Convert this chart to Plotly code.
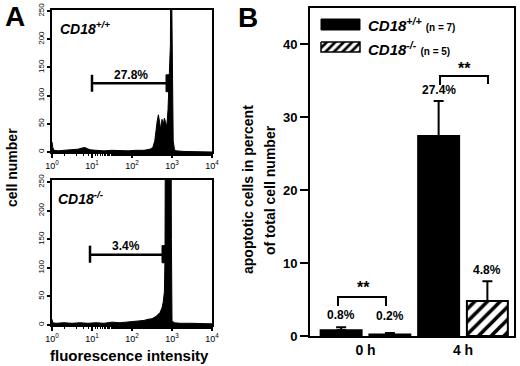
import plotly.graph_objects as go

W, H = 520, 366
FONT = "Liberation Sans, Arial, sans-serif"

# ---------------- Panel A data (log10 fluorescence channel, cell count) ----------------
wt_log = [0.00, 0.02, 0.05, 0.15, 0.30, 0.50, 0.65, 0.75, 0.82, 0.88, 0.95, 1.10, 1.30,
          1.50, 1.70, 1.90, 2.10, 2.30, 2.45, 2.52, 2.57, 2.60, 2.63, 2.66, 2.69, 2.72,
          2.75, 2.78, 2.81, 2.84, 2.87, 2.90, 2.92, 2.94, 2.96, 2.975, 2.99, 3.01, 3.03,
          3.06, 3.10, 3.30, 3.60, 4.00]
wt_count = [18, 8, 3, 2, 3, 4, 5, 7, 8, 6, 4, 3, 2,
            3, 2, 2, 3, 3, 5, 8, 20, 45, 55, 66, 50, 40,
            58, 48, 60, 52, 45, 75, 110, 150, 190, 400, 250, 90, 20,
            5, 2, 1, 0, 0]

ko_log = [0.00, 0.02, 0.10, 0.30, 0.50, 0.70, 0.90, 1.10, 1.30, 1.50, 1.70, 1.90, 2.10,
          2.20, 2.30, 2.40, 2.50, 2.60, 2.70, 2.75, 2.78, 2.81, 2.825, 2.835, 2.975, 2.985,
          3.00, 3.05, 3.20, 3.50, 3.80, 4.00]
ko_count = [10, 4, 3, 4, 3, 4, 3, 4, 3, 5, 4, 5, 6,
            7, 8, 10, 11, 15, 22, 30, 40, 58, 120, 400, 400, 150,
            8, 4, 3, 3, 2, 2]

# gates: [left cap, right block start, right block end] in log10 units, gate level & cap range in counts
gate_text = ["27.8%", "3.4%"]
gate_left = [1.00, 0.95]
gate_block = [(2.85, 2.975), (2.75, 2.875)]
gate_level = [122, 123]
gate_cap = [(107, 137), (109, 139)]
hist_names = ["CD18<sup>+/+</sup>", "CD18<sup>-/-</sup>"]

x_tick_exp = [0, 1, 2, 3, 4]
y_ticks_A = [0, 50, 100, 150, 200, 250]

# ---------------- Panel B data ----------------
times = ["0 h", "4 h"]
wt_vals = [0.8, 27.4]
wt_err = [0.4, 4.8]
ko_vals = [0.2, 4.8]
ko_err = [0.2, 2.7]
wt_lbl = ["0.8%", "27.4%"]
ko_lbl = ["0.2%", "4.8%"]
y_ticks_B = [0, 10, 20, 30, 40]

fig = go.Figure()

def px_x(p):
    return p / W

def px_y(p):
    return 1 - p / H

# ---------- Panel A histograms ----------
axesA = [("x", "y"), ("x2", "y2")]
hists = [(wt_log, wt_count), (ko_log, ko_count)]
for i, ((xa, ya), (lg, ct)) in enumerate(zip(axesA, hists)):
    fig.add_trace(go.Scatter(
        x=[10 ** e for e in lg], y=ct, mode="lines",
        line=dict(color="black", width=1), fill="tozeroy", fillcolor="black",
        xaxis=xa, yaxis=ya, showlegend=False, hoverinfo="skip"))
    lo = 10 ** gate_left[i]
    b0, b1 = (10 ** gate_block[i][0], 10 ** gate_block[i][1])
    c0, c1 = gate_cap[i]
    fig.add_trace(go.Scatter(
        x=[lo, lo, None, lo, b0], y=[c0, c1, None, gate_level[i], gate_level[i]],
        mode="lines", line=dict(color="black", width=2.5),
        xaxis=xa, yaxis=ya, showlegend=False, hoverinfo="skip"))
    fig.add_trace(go.Scatter(
        x=[b0, b1, b1, b0, b0], y=[c0, c0, c1, c1, c0], mode="lines",
        fill="toself", fillcolor="black", line=dict(color="black", width=1),
        xaxis=xa, yaxis=ya, showlegend=False, hoverinfo="skip"))

# ---------- Panel B bars ----------
xpos = list(range(len(times)))
fig.add_trace(go.Bar(
    x=xpos, y=wt_vals, name="CD18+/+", xaxis="x3", yaxis="y3",
    marker=dict(color="black", line=dict(color="black", width=2)),
    error_y=dict(type="data", symmetric=False, array=wt_err, arrayminus=[0] * len(wt_err),
                 color="black", thickness=2, width=5),
    showlegend=False))
fig.add_trace(go.Bar(
    x=xpos, y=ko_vals, name="CD18-/-", xaxis="x3", yaxis="y3",
    marker=dict(color="white", line=dict(color="black", width=2),
                pattern=dict(shape="/", fgcolor="black", bgcolor="white", size=9, solidity=0.4)),
    error_y=dict(type="data", symmetric=False, array=ko_err, arrayminus=[0] * len(ko_err),
                 color="black", thickness=2, width=5),
    showlegend=False))

# B pixel -> data helpers (for decorative elements)
B_X0, B_UNIT = 365.5, 97.5
B_Y0, B_YU = 336, 7.3

def bx(p):
    return (p - B_X0) / B_UNIT

def by(p):
    return (B_Y0 - p) / B_YU

# legend swatches
sw = [(321, 360, 19, 30), (321, 360, 42, 52)]
fig.add_trace(go.Scatter(
    x=[bx(sw[0][0]), bx(sw[0][1]), bx(sw[0][1]), bx(sw[0][0]), bx(sw[0][0])],
    y=[by(sw[0][2]), by(sw[0][2]), by(sw[0][3]), by(sw[0][3]), by(sw[0][2])],
    mode="lines", fill="toself", fillcolor="black", line=dict(color="black", width=1),
    xaxis="x3", yaxis="y3", showlegend=False, hoverinfo="skip"))
fig.add_trace(go.Scatter(
    x=[bx(sw[1][0]), bx(sw[1][1]), bx(sw[1][1]), bx(sw[1][0]), bx(sw[1][0])],
    y=[by(sw[1][2]), by(sw[1][2]), by(sw[1][3]), by(sw[1][3]), by(sw[1][2])],
    mode="lines", fill="toself", fillcolor="white",
    fillpattern=dict(shape="/", fgcolor="black", bgcolor="white", size=6, solidity=0.45),
    line=dict(color="black", width=1.5),
    xaxis="x3", yaxis="y3", showlegend=False, hoverinfo="skip"))

# ---------- Axes ----------
axis_common = dict(showline=True, linecolor="black", linewidth=2, mirror=True,
                   showgrid=False, zeroline=False, automargin=False)
tickA = dict(family=FONT, size=9, color="black")

for i, (xa, ya) in enumerate(axesA):
    top, bot = [(10, 152), (180, 325)][i]
    xkey = "xaxis" if i == 0 else "xaxis2"
    ykey = "yaxis" if i == 0 else "yaxis2"
    fig.update_layout(**{
        xkey: dict(axis_common, type="log", range=[0, 4],
                   domain=[px_x(52), px_x(212)], anchor=ya,
                   tickmode="array", tickvals=[10 ** e for e in x_tick_exp],
                   ticktext=["10<sup>%d</sup>" % e for e in x_tick_exp],
                   ticks="outside", ticklen=4, tickwidth=1.5, tickcolor="black",
                   tickfont=tickA,
                   minor=dict(ticks="outside", ticklen=2, tickwidth=1, tickcolor="black",
                              showgrid=False)),
        ykey: dict(axis_common, range=[0, 252 if i == 0 else 254],
                   domain=[px_y(bot), px_y(top)], anchor=xa,
                   tickmode="array", tickvals=y_ticks_A, tickangle=-90,
                   ticks="outside", ticklen=3, tickwidth=1.5, tickcolor="black",
                   tickfont=dict(family=FONT, size=8, color="black")),
    })

fig.update_layout(
    xaxis3=dict(axis_common, range=[bx(310), bx(514)], domain=[px_x(310), px_x(514)],
                anchor="y3", tickmode="array", tickvals=xpos, ticktext=times, ticks="",
                tickfont=dict(family=FONT, size=14, color="black", weight="bold")),
    yaxis3=dict(axis_common, range=[0, by(8)], domain=[px_y(336), px_y(8)],
                anchor="x3", tickmode="array", tickvals=y_ticks_B,
                ticks="outside", ticklen=8, tickwidth=2, tickcolor="black",
                tickfont=dict(family=FONT, size=13, color="black", weight="bold")),
    barmode="group", bargap=0.0, bargroupgap=0.16,
)

# ---------- Shapes (significance brackets) ----------
shapes = [
    dict(type="path", xref="x3", yref="y3", line=dict(color="black", width=2),
         path="M %f %f L %f %f L %f %f L %f %f" % (bx(440), by(85), bx(440), by(76),
                                                   bx(488), by(76), bx(488), by(84))),
    dict(type="path", xref="x3", yref="y3", line=dict(color="black", width=2),
         path="M %f %f L %f %f L %f %f L %f %f" % (bx(338), by(306), bx(338), by(297),
                                                   bx(386), by(297), bx(386), by(306))),
]
fig.update_layout(shapes=shapes)

# ---------- Annotations ----------
ann = []
bold = dict(family=FONT, color="black", weight="bold")

def paper_text(text, x, y, size, angle=0, xanchor="center"):
    return dict(text=text, x=px_x(x), y=px_y(y), xref="paper", yref="paper",
                xanchor=xanchor, yanchor="middle", textangle=angle, showarrow=False,
                font=dict(bold, size=size))

# panel letters
ann.append(paper_text("A", 15, 16, 28))
ann.append(paper_text("B", 248, 17, 28))

# Panel A labels
ann.append(paper_text("<i>" + hist_names[0] + "</i>", 58, 28, 14, xanchor="left"))
ann.append(paper_text("<i>" + hist_names[1] + "</i>", 56, 198, 14, xanchor="left"))
ann.append(dict(text=gate_text[0], x=1.975, y=137, xref="x", yref="y", showarrow=False,
                xanchor="center", yanchor="middle", font=dict(bold, size=12)))
ann.append(dict(text=gate_text[1], x=1.85, y=139, xref="x2", yref="y2", showarrow=False,
                xanchor="center", yanchor="middle", font=dict(bold, size=12)))
ann.append(paper_text("cell number", 12, 168, 14, angle=-90))
ann.append(paper_text("fluorescence intensity", 129, 355, 15))

# Panel B axis title
ann.append(paper_text("apoptotic cells in percent", 248, 190, 14, angle=-90))
ann.append(paper_text("of total cell number", 270, 190, 14, angle=-90))

# legend text
ann.append(paper_text("<i>CD18<sup>+/+</sup></i> <span style='font-size:10px'>(n = 7)</span>",
                      366, 25, 15, xanchor="left"))
ann.append(paper_text("<i>CD18<sup>-/-</sup></i> <span style='font-size:10px'>(n = 5)</span>",
                      366, 48, 15, xanchor="left"))

# value labels
yshift_lbl = {("wt", 0): 3, ("ko", 0): 8, ("wt", 1): 2, ("ko", 1): 2}
for j in xpos:
    ann.append(dict(text=wt_lbl[j], x=j - 0.25, y=wt_vals[j] + wt_err[j], xref="x3", yref="y3",
                    xanchor="center", yanchor="bottom", yshift=yshift_lbl[("wt", j)],
                    showarrow=False, font=dict(bold, size=12)))
    ann.append(dict(text=ko_lbl[j], x=j + 0.25, y=ko_vals[j] + ko_err[j], xref="x3", yref="y3",
                    xanchor="center", yanchor="bottom", yshift=yshift_lbl[("ko", j)],
                    showarrow=False, font=dict(bold, size=12)))

# significance stars
ann.append(dict(text="**", x=bx(464), y=by(68), xref="x3", yref="y3", showarrow=False,
                xanchor="center", yanchor="middle", font=dict(bold, size=16)))
ann.append(dict(text="**", x=bx(363), y=by(287), xref="x3", yref="y3", showarrow=False,
                xanchor="center", yanchor="middle", font=dict(bold, size=16)))

fig.update_layout(
    template="none",
    annotations=ann,
    width=W, height=H,
    margin=dict(l=0, r=0, t=0, b=0, autoexpand=False),
    paper_bgcolor="white", plot_bgcolor="white",
    font=dict(family=FONT, color="black"),
    showlegend=False,
)

fig.write_html("out.html", config={"displayModeBar": False},
               post_script="document.body.style.margin='0';document.body.style.overflow='hidden';")
